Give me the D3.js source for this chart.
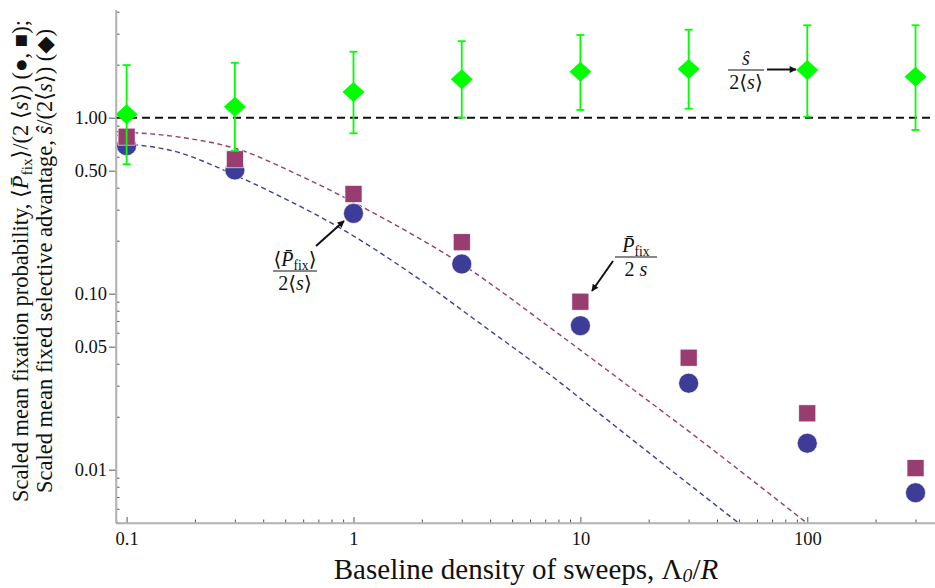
<!DOCTYPE html>
<html>
<head>
<meta charset="utf-8">
<script src="https://cdn.jsdelivr.net/npm/d3@7"></script>
<style>
    body { margin: 0; background: #fff; }
    svg { display: block; font-family: "Liberation Serif", "DejaVu Serif", serif; }
    .axis path { stroke: #b4b4b4; stroke-width: 1.6px; }
    .axis line { stroke: #555; stroke-width: 1px; }
    .axis text { font-family: "Liberation Serif", serif; font-size: 18.5px; fill: #111; }
</style>
</head>
<body>
<div id="chart"></div>
<script>
const width = 935;
const height = 588;

// x positions of the simulated points (Λ0/R)
const sweepDensity = [0.1, 0.3, 1, 3, 10, 30, 100, 300];

// circles: <Pfix>/(2<s>)
const meanPfixScaled = [0.693, 0.504, 0.286, 0.1475, 0.0658, 0.031, 0.01413, 0.0074];
// squares: Pfix/(2s)
const pfixScaled = [0.78, 0.58, 0.3685, 0.196, 0.0901, 0.0433, 0.0209, 0.0102];
// diamonds: s-hat/(2<s>) with error bars
const sHatScaled = [1.045, 1.155, 1.40, 1.653, 1.825, 1.891, 1.866, 1.71];
const sHatHigh = [1.99, 2.05, 2.37, 2.72, 2.95, 3.16, 3.35, 3.35];
const sHatLow = [0.544, 0.649, 0.815, 1.0, 1.106, 1.125, 1.013, 0.851];

// dashed theory curves
const curvePfixX = [0.09, 0.165, 0.3, 0.62, 1.3, 3.0, 8.1, 12.8, 33.6, 99];
const curvePfixY = [0.833, 0.78, 0.67, 0.45, 0.276, 0.147, 0.0585, 0.0377, 0.0148, 0.005];
const curveMeanX = [0.09, 0.165, 0.3, 0.47, 0.93, 1.83, 3.6, 7.6, 12.2, 24, 50];
const curveMeanY = [0.715, 0.641, 0.472, 0.36, 0.225, 0.128, 0.068, 0.0335, 0.0207, 0.0104, 0.00496];

// ticks
const xLabelTicks = [0.1, 1, 10, 100];
const xLabelText = ["0.1", "1", "10", "100"];
const yLabelTicks = [0.01, 0.05, 0.1, 0.5, 1];
const yLabelText = ["0.01", "0.05", "0.10", "0.50", "1.00"];

const blue = "#3d3d99";
const purple = "#993d71";
const green = "#00ff00";

const plot = { left: 116, right: 937, top: 10, bottom: 523 };

const svg = d3.select("#chart")
    .append("svg")
    .attr("width", width)
    .attr("height", height);

const x = d3.scaleLog()
    .domain([0.0898, 373])
    .range([plot.left, plot.right]);

const y = d3.scaleLog()
    .domain([0.00498, 4.09])
    .range([plot.bottom, plot.top]);

const defs = svg.append("defs");

defs.append("clipPath")
    .attr("id", "clip")
    .append("rect")
    .attr("x", plot.left)
    .attr("y", plot.top)
    .attr("width", plot.right - plot.left)
    .attr("height", plot.bottom - plot.top);

defs.append("marker")
    .attr("id", "arrow")
    .attr("viewBox", "0 0 10 10")
    .attr("refX", 9)
    .attr("refY", 5)
    .attr("markerWidth", 9)
    .attr("markerHeight", 7)
    .attr("markerUnits", "userSpaceOnUse")
    .attr("orient", "auto")
    .append("path")
    .attr("d", "M0,0 L10,5 L0,10 z")
    .attr("fill", "#111");

// X AXIS
const xMinor = x.ticks().filter(d => !xLabelTicks.includes(d));

svg.append("g")
    .attr("class", "axis")
    .attr("transform", `translate(0,${plot.bottom})`)
    .call(d3.axisBottom(x).tickValues(xMinor).tickSize(-3.5).tickFormat(""))
    .call(g => g.select(".domain").remove());

svg.append("g")
    .attr("class", "axis")
    .attr("transform", `translate(0,${plot.bottom})`)
    .call(
        d3.axisBottom(x)
            .tickValues(xLabelTicks)
            .tickSize(-6)
            .tickSizeOuter(0)
            .tickPadding(9)
            .tickFormat((d, i) => xLabelText[i])
    );

// Y AXIS
const yMinor = y.ticks().filter(d => !yLabelTicks.some(t => Math.abs(t - d) < 1e-9));

svg.append("g")
    .attr("class", "axis")
    .attr("transform", `translate(${plot.left},0)`)
    .call(d3.axisLeft(y).tickValues(yMinor).tickSize(-3.5).tickFormat(""))
    .call(g => g.select(".domain").remove());

svg.append("g")
    .attr("class", "axis")
    .attr("transform", `translate(${plot.left},0)`)
    .call(
        d3.axisLeft(y)
            .tickValues(yLabelTicks)
            .tickSize(7)
            .tickSizeOuter(0)
            .tickPadding(2)
            .tickFormat((d, i) => yLabelText[i])
    );

// REFERENCE LINE AT 1
svg.append("line")
    .attr("x1", plot.left)
    .attr("x2", plot.right)
    .attr("y1", y(1))
    .attr("y2", y(1))
    .attr("stroke", "#111")
    .attr("stroke-width", 2)
    .attr("stroke-dasharray", "8,5");

// THEORY CURVES
const line = d3.line()
    .x(d => x(d[0]))
    .y(d => y(d[1]))
    .curve(d3.curveMonotoneX);

const curves = svg.append("g").attr("clip-path", "url(#clip)");

curves.append("path")
    .datum(curvePfixX.map((d, i) => [d, curvePfixY[i]]))
    .attr("d", line)
    .attr("fill", "none")
    .attr("stroke", purple)
    .attr("stroke-width", 1.4)
    .attr("stroke-dasharray", "5,3.5");

curves.append("path")
    .datum(curveMeanX.map((d, i) => [d, curveMeanY[i]]))
    .attr("d", line)
    .attr("fill", "none")
    .attr("stroke", blue)
    .attr("stroke-width", 1.4)
    .attr("stroke-dasharray", "5,3.5");

// CIRCLES
svg.selectAll(".circ")
    .data(sweepDensity)
    .enter()
    .append("circle")
    .attr("class", "circ")
    .attr("cx", d => x(d))
    .attr("cy", (d, i) => y(meanPfixScaled[i]))
    .attr("r", 10)
    .attr("fill", blue)
    .attr("stroke", "#fff")
    .attr("stroke-width", 0.6);

// SQUARES
svg.selectAll(".sq")
    .data(sweepDensity)
    .enter()
    .append("rect")
    .attr("class", "sq")
    .attr("x", d => x(d) - 8.5)
    .attr("y", (d, i) => y(pfixScaled[i]) - 8.5)
    .attr("width", 17)
    .attr("height", 17)
    .attr("fill", purple)
    .attr("stroke", "#fff")
    .attr("stroke-width", 0.6);

// ERROR BARS
const bars = svg.selectAll(".err")
    .data(sweepDensity)
    .enter()
    .append("g")
    .attr("class", "err")
    .attr("stroke", green)
    .attr("stroke-width", 1.8);

bars.append("line")
    .attr("x1", d => x(d))
    .attr("x2", d => x(d))
    .attr("y1", (d, i) => y(sHatHigh[i]))
    .attr("y2", (d, i) => y(sHatLow[i]));

bars.append("line")
    .attr("x1", d => x(d) - 4)
    .attr("x2", d => x(d) + 4)
    .attr("y1", (d, i) => y(sHatHigh[i]))
    .attr("y2", (d, i) => y(sHatHigh[i]));

bars.append("line")
    .attr("x1", d => x(d) - 4)
    .attr("x2", d => x(d) + 4)
    .attr("y1", (d, i) => y(sHatLow[i]))
    .attr("y2", (d, i) => y(sHatLow[i]));

// DIAMONDS
svg.selectAll(".dia")
    .data(sweepDensity)
    .enter()
    .append("path")
    .attr("class", "dia")
    .attr("transform", (d, i) => `translate(${x(d)},${y(sHatScaled[i])})`)
    .attr("d", "M-11,0 L0,-10 L11,0 L0,10 Z")
    .attr("fill", green);

// AXIS LINES ON TOP
svg.append("line")
    .attr("x1", plot.left).attr("x2", plot.left)
    .attr("y1", plot.top).attr("y2", plot.bottom)
    .attr("stroke", "#b4b4b4").attr("stroke-width", 1.6);

svg.append("line")
    .attr("x1", plot.left).attr("x2", plot.right)
    .attr("y1", plot.bottom).attr("y2", plot.bottom)
    .attr("stroke", "#b4b4b4").attr("stroke-width", 1.6);

// RICH TEXT HELPER
function rich(sel, parts, shift = 4) {
    parts.forEach(p => {
        const t = sel.append("tspan").text(p.t);
        if (p.i) t.style("font-style", "italic");
        if (p.sub) t.attr("dy", shift).style("font-size", "0.68em");
        if (p.after) t.attr("dy", -shift);
    });
    return sel;
}

// AXIS TITLES
rich(
    svg.append("text")
        .attr("x", 526)
        .attr("y", 579)
        .attr("text-anchor", "middle")
        .style("font-size", "29px")
        .attr("fill", "#111"),
    [
        { t: "Baseline density of sweeps, Λ" },
        { t: "0", i: true, sub: true },
        { t: "/", after: true },
        { t: "R", i: true }
    ],
    3
);

rich(
    svg.append("text")
        .attr("transform", "translate(28,261) rotate(-90)")
        .attr("text-anchor", "middle")
        .style("font-size", "22.5px")
        .attr("fill", "#111"),
    [
        { t: "Scaled mean fixation probability, ⟨" },
        { t: "P\u0304", i: true },
        { t: "fix", sub: true },
        { t: "⟩/(2 ⟨", after: true },
        { t: "s", i: true },
        { t: "⟩) (●, ■);" }
    ]
);

rich(
    svg.append("text")
        .attr("transform", "translate(52,261) rotate(-90)")
        .attr("text-anchor", "middle")
        .style("font-size", "22.5px")
        .attr("fill", "#111"),
    [
        { t: "Scaled mean fixed selective advantage, " },
        { t: "ŝ", i: true },
        { t: "/(2⟨" },
        { t: "s", i: true },
        { t: "⟩) (◆)" }
    ]
);

// FRACTION ANNOTATIONS
function fraction(cx, barY, halfW, num, den) {
    const g = svg.append("g").attr("fill", "#111").style("font-size", "20px");
    rich(g.append("text").attr("x", cx).attr("y", barY - 5).attr("text-anchor", "middle"), num);
    g.append("line")
        .attr("x1", cx - halfW).attr("x2", cx + halfW)
        .attr("y1", barY).attr("y2", barY)
        .attr("stroke", "#111").attr("stroke-width", 1);
    rich(g.append("text").attr("x", cx).attr("y", barY + 19).attr("text-anchor", "middle"), den);
}

function arrow(x1, y1, x2, y2) {
    svg.append("line")
        .attr("x1", x1).attr("y1", y1)
        .attr("x2", x2).attr("y2", y2)
        .attr("stroke", "#111")
        .attr("stroke-width", 2)
        .attr("marker-end", "url(#arrow)");
}

fraction(295, 271, 22,
    [{ t: "⟨" }, { t: "P\u0304", i: true }, { t: "fix", sub: true }, { t: "⟩", after: true }],
    [{ t: "2⟨" }, { t: "s", i: true }, { t: "⟩" }]);
arrow(316, 246, 344, 221);

fraction(636, 257, 21,
    [{ t: "P\u0304", i: true }, { t: "fix", sub: true }],
    [{ t: "2 " }, { t: "s", i: true }]);
arrow(613, 261, 592, 291);

fraction(746, 70, 18,
    [{ t: "ŝ", i: true }],
    [{ t: "2⟨" }, { t: "s", i: true }, { t: "⟩" }]);
arrow(767, 69.5, 796, 69.5);
</script>
</body>
</html>
